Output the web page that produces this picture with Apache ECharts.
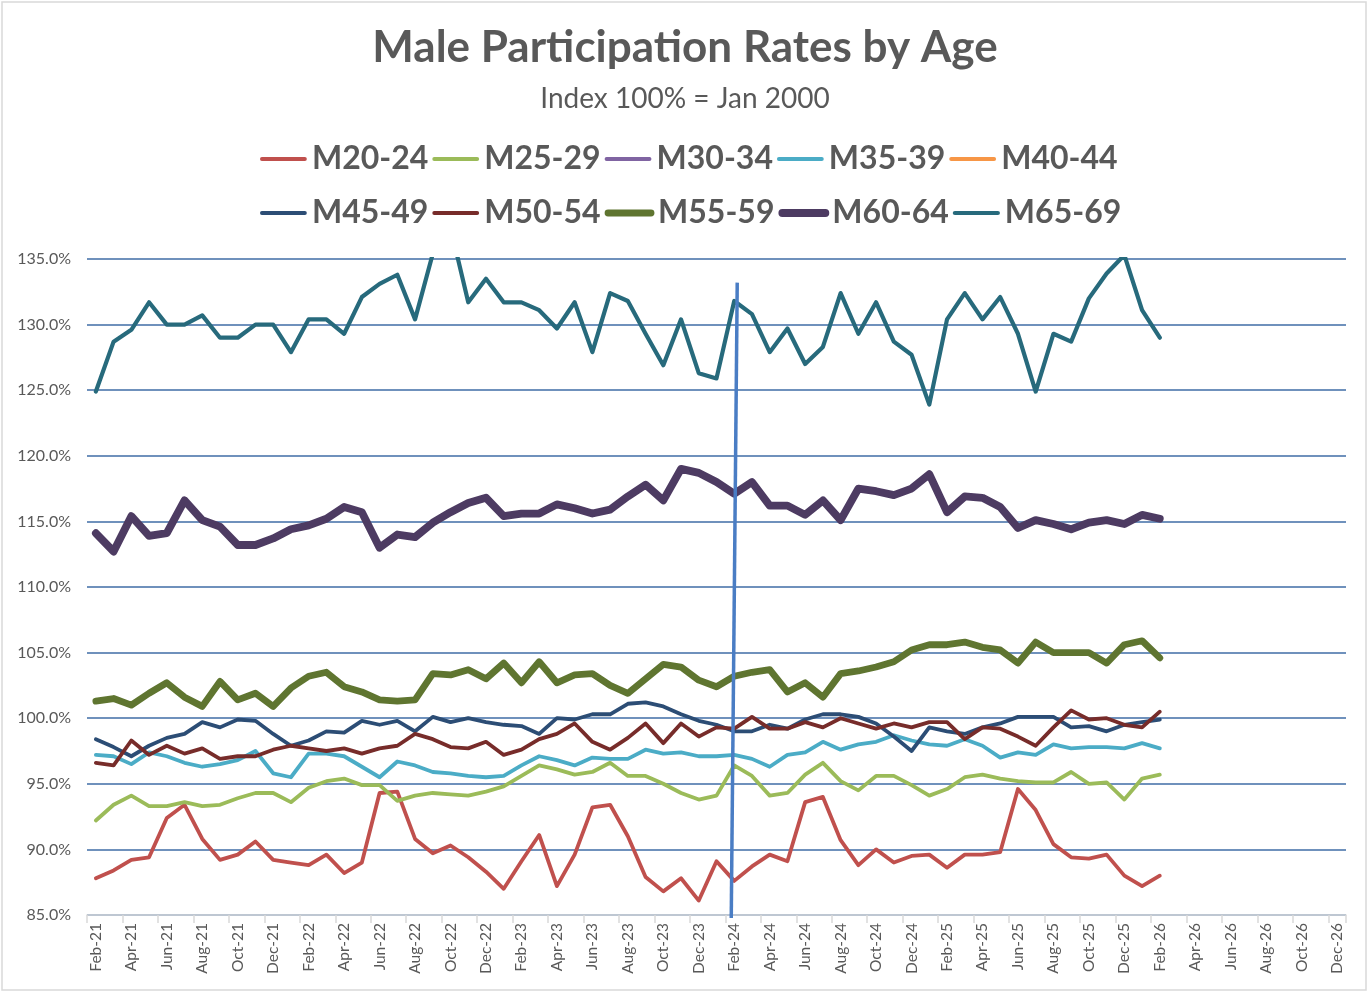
<!DOCTYPE html>
<html>
<head>
<meta charset="utf-8">
<script src="https://cdn.jsdelivr.net/npm/echarts@6/dist/echarts.min.js"></script>
<style>
html,body{margin:0;padding:0;background:#fff;}
#chart{width:1370px;height:994px;}
</style>
</head>
<body>
<div id="chart"></div>
<script>
var categories = [
 'Feb-21','Mar-21','Apr-21','May-21','Jun-21','Jul-21','Aug-21','Sep-21','Oct-21','Nov-21','Dec-21',
 'Jan-22','Feb-22','Mar-22','Apr-22','May-22','Jun-22','Jul-22','Aug-22','Sep-22','Oct-22','Nov-22','Dec-22',
 'Jan-23','Feb-23','Mar-23','Apr-23','May-23','Jun-23','Jul-23','Aug-23','Sep-23','Oct-23','Nov-23','Dec-23',
 'Jan-24','Feb-24','Mar-24','Apr-24','May-24','Jun-24','Jul-24','Aug-24','Sep-24','Oct-24','Nov-24','Dec-24',
 'Jan-25','Feb-25','Mar-25','Apr-25','May-25','Jun-25','Jul-25','Aug-25','Sep-25','Oct-25','Nov-25','Dec-25',
 'Jan-26','Feb-26','Mar-26','Apr-26','May-26','Jun-26','Jul-26','Aug-26','Sep-26','Oct-26','Nov-26','Dec-26'
];
var yTicks = [85, 90, 95, 100, 105, 110, 115, 120, 125, 130, 135];

var m20_24 = [87.8,88.4,89.2,89.4,92.4,93.4,90.8,89.2,89.6,90.6,89.2,89.0,88.8,89.6,88.2,89.0,94.3,94.4,
 90.8,89.7,90.3,89.4,88.3,87.0,89.1,91.1,87.2,89.6,93.2,93.4,91.0,87.9,86.8,87.8,86.1,89.1,
 87.6,88.7,89.6,89.1,93.6,94.0,90.7,88.8,90.0,89.0,89.5,89.6,88.6,89.6,89.6,89.8,94.6,93.0,90.4,89.4,89.3,89.6,88.0,87.2,88.0];
var m25_29 = [92.2,93.4,94.1,93.3,93.3,93.6,93.3,93.4,93.9,94.3,94.3,93.6,94.7,95.2,95.4,94.9,94.9,93.7,
 94.1,94.3,94.2,94.1,94.4,94.8,95.6,96.4,96.1,95.7,95.9,96.6,95.6,95.6,95.0,94.3,93.8,94.1,
 96.4,95.6,94.1,94.3,95.7,96.6,95.2,94.5,95.6,95.6,94.9,94.1,94.6,95.5,95.7,95.4,95.2,95.1,95.1,95.9,95.0,95.1,93.8,95.4,95.7];
var m30_34 = [];
var m35_39 = [97.2,97.1,96.5,97.4,97.1,96.6,96.3,96.5,96.8,97.5,95.8,95.5,97.3,97.3,97.1,96.3,95.5,96.7,
 96.4,95.9,95.8,95.6,95.5,95.6,96.4,97.1,96.8,96.4,97.0,96.9,96.9,97.6,97.3,97.4,97.1,97.1,
 97.2,96.9,96.3,97.2,97.4,98.2,97.6,98.0,98.2,98.7,98.3,98.0,97.9,98.4,97.9,97.0,97.4,97.2,98.0,97.7,97.8,97.8,97.7,98.1,97.7];
var m40_44 = [];
var m45_49 = [98.4,97.8,97.1,97.9,98.5,98.8,99.7,99.3,99.9,99.8,98.8,97.9,98.3,99.0,98.9,99.8,99.5,99.8,
 99.0,100.1,99.7,100.0,99.7,99.5,99.4,98.8,100.0,99.9,100.3,100.3,101.1,101.2,100.9,100.3,99.8,99.5,
 99.0,99.0,99.5,99.2,99.9,100.3,100.3,100.1,99.6,98.6,97.5,99.3,99.0,98.8,99.3,99.6,100.1,100.1,100.1,99.3,99.4,99.0,99.5,99.7,99.9];
var m50_54 = [96.6,96.4,98.3,97.2,97.9,97.3,97.7,96.9,97.1,97.1,97.6,97.9,97.7,97.5,97.7,97.3,97.7,97.9,
 98.8,98.4,97.8,97.7,98.2,97.2,97.6,98.4,98.8,99.6,98.2,97.6,98.5,99.6,98.1,99.6,98.6,99.3,
 99.2,100.1,99.2,99.2,99.7,99.3,100.0,99.6,99.2,99.6,99.3,99.7,99.7,98.4,99.3,99.2,98.6,97.9,99.3,100.6,99.9,100.0,99.5,99.3,100.5];
var m55_59 = [101.3,101.5,101.0,101.9,102.7,101.6,100.9,102.8,101.4,101.9,100.9,102.3,103.2,103.5,102.4,102.0,101.4,101.3,
 101.4,103.4,103.3,103.7,103.0,104.2,102.7,104.3,102.7,103.3,103.4,102.5,101.9,103.0,104.1,103.9,102.9,102.4,
 103.2,103.5,103.7,102.0,102.7,101.6,103.4,103.6,103.9,104.3,105.2,105.6,105.6,105.8,105.4,105.2,104.2,105.8,105.0,105.0,105.0,104.2,105.6,105.9,104.6];
var m60_64 = [114.1,112.7,115.4,113.9,114.1,116.6,115.1,114.6,113.2,113.2,113.7,114.4,114.7,115.2,116.1,115.7,113.0,114.0,
 113.8,114.9,115.7,116.4,116.8,115.4,115.6,115.6,116.3,116.0,115.6,115.9,116.9,117.8,116.6,119.0,118.7,118.0,
 117.1,118.0,116.2,116.2,115.5,116.6,115.1,117.5,117.3,117.0,117.5,118.6,115.7,116.9,116.8,116.1,114.5,115.1,114.8,114.4,114.9,115.1,114.8,115.5,115.2];
var m65_69 = [124.9,128.7,129.6,131.7,130.0,130.0,130.7,129.0,129.0,130.0,130.0,127.9,130.4,130.4,129.3,132.1,133.1,133.8,
 130.4,135.4,137.4,131.7,133.5,131.7,131.7,131.1,129.7,131.7,127.9,132.4,131.8,129.3,126.9,130.4,126.3,125.9,
 131.8,130.8,127.9,129.7,127.0,128.3,132.4,129.3,131.7,128.7,127.7,123.9,130.4,132.4,130.4,132.1,129.3,124.9,129.3,128.7,132.0,133.9,135.3,131.1,129.0];

var seriesNames = ['M20-24','M25-29','M30-34','M35-39','M40-44','M45-49','M50-54','M55-59','M60-64','M65-69'];
var seriesData = [m20_24,m25_29,m30_34,m35_39,m40_44,m45_49,m50_54,m55_59,m60_64,m65_69];
var seriesColors = ['#C0504D','#9BBB59','#8064A2','#4BACC6','#F79646','#2C4D75','#772C2A','#5F7530','#4D3B62','#276A7C'];
var seriesWidths = [3.8,3.8,3.8,3.8,3.8,3.8,3.8,6.8,7.8,4.2];

var FONT = 'Lato, "Open Sans", sans-serif';
var chart = echarts.init(document.getElementById('chart'));

var series = seriesNames.map(function(n, i){
  return {
    name: n, type: 'line', data: seriesData[i], symbol: 'none', showSymbol: false, smooth: false,
    clip: true,
    lineStyle: {color: seriesColors[i], width: seriesWidths[i], join: 'round', cap: 'round'},
    itemStyle: {color: seriesColors[i]},
    emphasis: {disabled: true},
    animation: false
  };
});

var legendCommon = {
  itemWidth: 43, itemHeight: 14, itemGap: 4,
  lineStyle: {width: 'inherit'},
  itemStyle: {color: 'rgba(0,0,0,0)', borderColor: 'rgba(0,0,0,0)', borderWidth: 0, opacity: 0},
  textStyle: {fontSize: 32, fontWeight: 'bold', color: '#595959', fontFamily: FONT, padding: [0,0,0,2]},
  selectedMode: false
};

chart.setOption({
  animation: false,
  backgroundColor: '#ffffff',
  title: [
    {text: 'Male Participation Rates by Age', left: 'center', top: 21,
     textStyle: {fontSize: 44, fontWeight: 'bold', color: '#595959', fontFamily: FONT}},
    {text: 'Index 100% = Jan 2000', left: 'center', top: 80,
     textStyle: {fontSize: 28, fontWeight: 'normal', color: '#595959', fontFamily: FONT}}
  ],
  legend: [
    Object.assign({}, legendCommon, {left: 255, top: 138, data: seriesNames.slice(0,5)}),
    Object.assign({}, legendCommon, {left: 255, top: 192, data: seriesNames.slice(5)})
  ],
  grid: {left: 87, right: 24, top: 259, bottom: 79, containLabel: false},
  xAxis: {
    type: 'category', data: categories, boundaryGap: true,
    axisLine: {show: true, lineStyle: {color: '#D9D9D9', width: 1.5}},
    axisTick: {show: true, interval: 1, length: 8, lineStyle: {color: '#D9D9D9', width: 1.5}},
    axisLabel: {interval: 1, rotate: 90, fontSize: 15.5, color: '#595959', fontFamily: FONT, margin: 8},
    splitLine: {show: false}
  },
  yAxis: {
    type: 'value', min: yTicks[0], max: yTicks[yTicks.length-1], interval: 5,
    axisLine: {show: false}, axisTick: {show: false},
    axisLabel: {fontSize: 16, color: '#595959', fontFamily: FONT, margin: 16,
      formatter: function(v){ return v.toFixed(1) + '%'; }},
    splitLine: {show: true, lineStyle: {color: '#3F6DA6', width: 1.5}}
  },
  series: series
});

// Divider line at Feb-24 (slightly slanted as in the original)
var pTop = chart.convertToPixel({gridIndex: 0}, ['Feb-24', 133.2]);
var pBot = chart.convertToPixel({gridIndex: 0}, ['Feb-24', 85]);
chart.setOption({
  graphic: [
    {type: 'rect', shape: {x: 2, y: 2, width: 1364, height: 988}, silent: true,
     style: {fill: 'none', stroke: '#D9D9D9', lineWidth: 1.5}, z: -1},
    {type: 'line', shape: {x1: pTop[0] + 3, y1: pTop[1], x2: pBot[0] - 3, y2: pBot[1] + 3},
     style: {stroke: '#4A7DC4', lineWidth: 3.5}, z: 100}
  ]
});
</script>
</body>
</html>
